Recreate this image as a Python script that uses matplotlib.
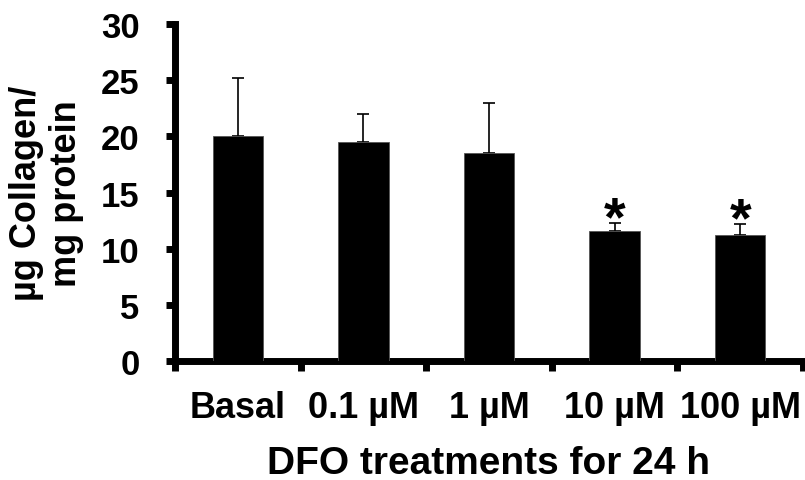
import matplotlib
matplotlib.use("Agg")
import matplotlib.pyplot as plt
import numpy as np

groups = ["Basal", "0.1 \u00b5M", "1 \u00b5M", "10 \u00b5M", "100 \u00b5M"]
collagen = [20.0, 19.5, 18.5, 11.55, 11.2]
err_up = [5.2, 2.5, 4.5, 0.75, 1.0]
signif = [False, False, False, True, True]

plt.rcParams['font.family'] = ['Liberation Sans', 'DejaVu Sans']
plt.rcParams['font.weight'] = 'bold'

fig = plt.figure(figsize=(8.05, 4.81), dpi=100)
ax = fig.add_axes([0.2174, 0.2474, 0.7801, 0.7006])

x = np.arange(len(groups)) + 0.5
ax.bar(x, collagen, width=0.4, color='black', edgecolor='#555555', linewidth=0.6, zorder=3)
ax.errorbar(x, collagen, yerr=[np.zeros(len(err_up)), err_up], fmt='none',
            ecolor='black', elinewidth=1.2, capsize=4.5, capthick=1.2, zorder=2)

for xi, v, e, s in zip(x, collagen, err_up, signif):
    if s:
        ax.text(xi, v + e + 0.2, "*", ha='center', va='center', fontsize=40, fontweight='bold')

ax.set_xlim(0, len(groups))
ax.set_ylim(0, 30)
ax.set_yticks(np.arange(0, 31, 5))
ax.set_xticks(np.arange(0, len(groups) + 1))
ax.set_xticklabels([])
ax.set_xticks(x, minor=True)
ax.set_xticklabels(groups, minor=True)

ax.tick_params(axis='y', direction='out', length=6.5, width=5, labelsize=25, pad=19)
ax.tick_params(axis='x', which='major', direction='out', length=7, width=5)
ax.tick_params(axis='x', which='minor', length=0, labelsize=26, pad=21)

for side in ['top', 'right']:
    ax.spines[side].set_visible(False)
for side in ['left', 'bottom']:
    ax.spines[side].set_linewidth(5)

ax.set_ylabel("\u00b5g Collagen/\nmg protein", fontsize=26, fontweight='bold', linespacing=1.2)
ax.yaxis.set_label_coords(-0.145, 0.5)
ax.set_xlabel("DFO treatments for 24 h", fontsize=28, fontweight='bold')
ax.xaxis.set_label_coords(0.5, -0.25)

fig.savefig("out.png", dpi=100)
